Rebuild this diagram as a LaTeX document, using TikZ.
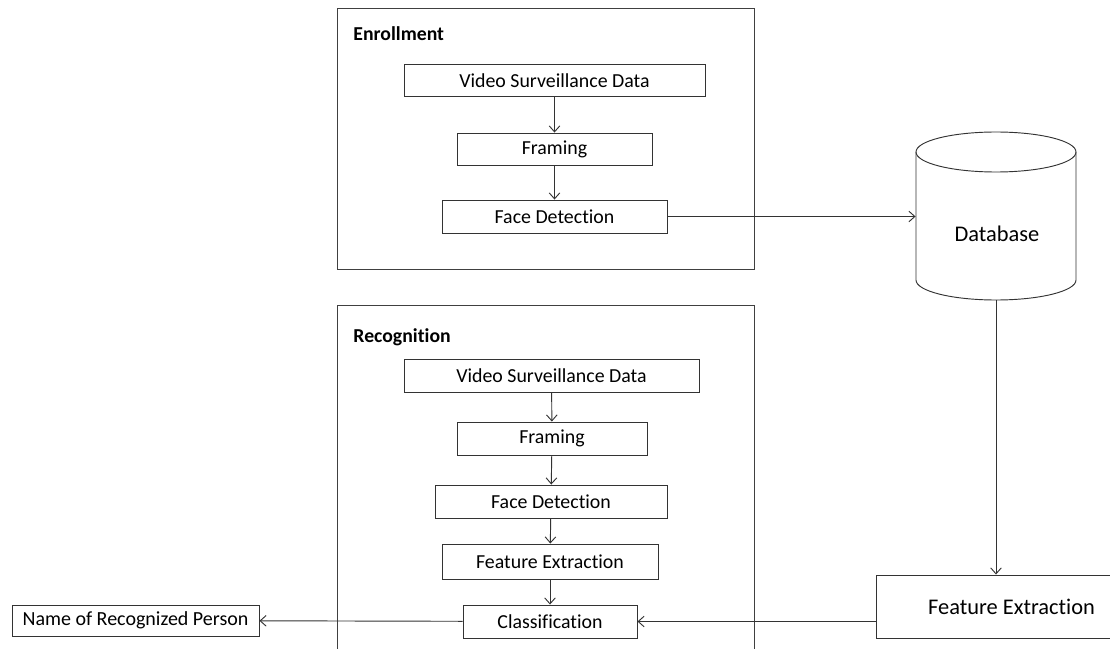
\documentclass[tikz,border=0pt]{standalone}
\usepackage{fontspec}
\setmainfont[Ligatures=NoCommon]{Carlito}
\usetikzlibrary{
    positioning,      % relative placement
    arrows.meta       % barb arrow tips
}

\begin{document}
\begin{tikzpicture}[
        x=0.75pt, y=-0.75pt,
        >={Straight Barb[length=4.5pt,width=8pt]},
        line width=0.7pt,
        % Styles
        frame/.style={draw=black!75, minimum width=417*0.75pt, inner sep=0pt},
        stage/.style={draw=black!80, minimum height=32*0.75pt, inner sep=0pt, font=\fontsize{14.9}{16}\selectfont},
        heading/.style={anchor=west, inner sep=0pt, font=\fontsize{14.8}{16}\selectfont\bfseries},
        flow/.style={->, draw=black!80}
    ]

    % --- Page frame ---
    \useasboundingbox (0,0) rectangle (1110,649);

    % --- Enrollment block ---
    \node[frame, minimum height=261*0.75pt] (EnrollFrame) at (545.5,138.5) {};
    \node[heading] (EnrollTitle) at (353,34) {Enrollment};
    \node[stage, minimum width=301*0.75pt] (VideoA) at (554.5,80.5) {Video Surveillance Data};
    \node[stage, minimum width=195*0.75pt] (FramingA) at (554.5,149) {Framing};
    \node[stage, minimum width=225*0.75pt, minimum height=33*0.75pt] (FaceA) at (554.5,216.5) {Face Detection};

    \draw[flow] (VideoA) -- (FramingA);
    \draw[flow] (FramingA) -- (FaceA);

    % --- Recognition block (runs off the bottom) ---
    \node[frame, minimum height=360*0.75pt] (RecogFrame) at (545.5,485) {};
    \node[heading] (RecogTitle) at (353,337) {Recognition};
    \node[stage, minimum width=295*0.75pt, minimum height=33*0.75pt] (VideoB) at (551.5,375.5) {Video Surveillance Data};
    \node[stage, minimum width=190*0.75pt, minimum height=33*0.75pt] (FramingB) at (552,438.5) {Framing};
    \node[stage, minimum width=232*0.75pt, minimum height=33*0.75pt] (FaceB) at (551,501.5) {Face Detection};
    \node[stage, minimum width=216*0.75pt, minimum height=35*0.75pt] (FeatureB) at (550,561.5) {Feature Extraction};
    \node[stage, minimum width=174*0.75pt, minimum height=33*0.75pt] (Classify) at (550,621.5) {Classification};

    \draw[flow] (VideoB) -- (FramingB);
    \draw[flow] (FramingB) -- (FaceB);
    \draw[flow] (FaceB) -- (FeatureB);
    \draw[flow] (FeatureB) -- (Classify);

    % --- Database: plain box for anchors, cylinder outline drawn round it ---
    \node[minimum width=160*0.75pt, minimum height=168*0.75pt, inner sep=0pt] (Database) at (996,216) {};
    \node[font=\fontsize{16.8}{18}\selectfont] (DatabaseText) at (997,234) {Database};
    \draw[black!80] (996,152) ellipse [x radius=60pt, y radius=15pt];
    \draw[black!80] (916,152) -- (916,280)
        arc [start angle=180, end angle=360, x radius=60pt, y radius=15pt]
        -- (1076,152);

    \node[stage, minimum width=271*0.75pt, minimum height=63*0.75pt,
          font=\fontsize{16.8}{18}\selectfont] (FeatureOut) at (1011.5,606.5) {Feature Extraction};

    \node[stage, minimum width=247*0.75pt, minimum height=31*0.75pt,
          font=\fontsize{15}{16}\selectfont] (PersonName) at (135.5,620.5) {Name of Recognized Person};

    % --- Connectors between blocks ---
    \draw[flow] (FaceA) -- (Database.west |- FaceA);
    \draw[flow] (Database.south) -- (Database.south |- FeatureOut.north);
    \draw[flow] (FeatureOut.west |- Classify) -- (Classify);
    \draw[flow] (Classify) -- (PersonName);

\end{tikzpicture}
\end{document}
